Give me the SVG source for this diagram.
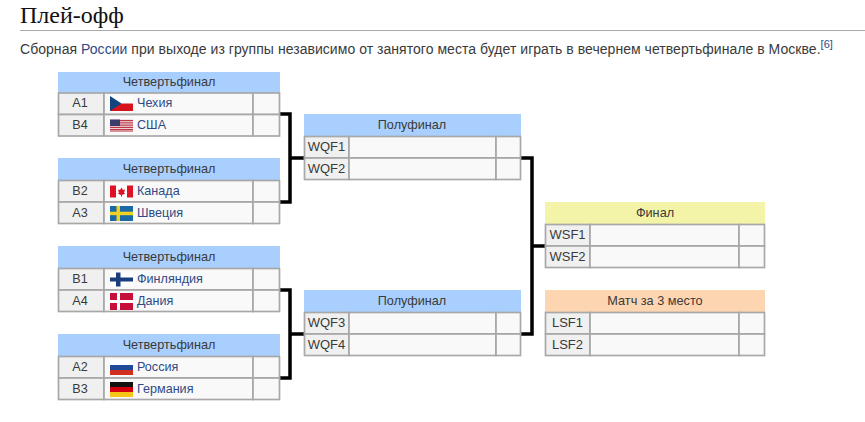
<svg xmlns="http://www.w3.org/2000/svg" width="865" height="422" viewBox="0 0 865 422">
<style>
text{font-family:"Liberation Sans",Arial,sans-serif;font-size:12.6px;fill:#3a3a3a}
.c{text-anchor:middle}
.l{fill:#2f4a86}
.qf{fill:#a9cfff}.fi{fill:#f4f4a8}.th{fill:#fdd5b0}
.code{fill:#f0f0f0;stroke:#a8a8a8;stroke-width:1.7}
.cell{fill:#f9f9f9;stroke:#a8a8a8;stroke-width:1.7}
.conn{fill:none;stroke:#000;stroke-width:3.5}
.hd{font-size:12.7px}
.code-t{font-size:13px}
</style>
<defs>
<g id="cz"><rect width="23" height="15" fill="#fff"/><rect y="7.5" width="23" height="7.5" fill="#d7141a"/><path d="M0 0L11.5 7.5L0 15Z" fill="#11457e"/></g>
<g id="us"><rect width="23" height="12" y="1.5" fill="#fff"/><path d="M0 2.4H23M0 4.2H23M0 6H23M0 7.8H23M0 9.6H23M0 11.4H23M0 13H23" stroke="#b22234" stroke-width="1"/><rect y="1.5" width="10" height="6.5" fill="#3c3b6e"/></g>
<g id="ca"><rect width="23" height="12" y="1.5" fill="#fff"/><rect y="1.5" width="6" height="12" fill="#e01025"/><rect x="17" y="1.5" width="6" height="12" fill="#e01025"/><path d="M11.5 3.5L13 6L15 5.5L14 9L15.5 9.5L12 11V12.5H11V11L7.5 9.5L9 9L8 5.5L10 6Z" fill="#e01025"/></g>
<g id="se"><rect width="23" height="15" fill="#1a6aa8"/><rect x="6.5" width="3.5" height="15" fill="#f0d020"/><rect y="5.7" width="23" height="3.5" fill="#f0d020"/></g>
<g id="fi"><rect width="23" height="14" y=".5" fill="#fff"/><rect x="6" y=".5" width="4.5" height="14" fill="#1a3d7c"/><rect y="5.5" width="23" height="4" fill="#1a3d7c"/></g>
<g id="dk"><rect width="23" height="17" y="-1" fill="#c5103a"/><rect x="7" y="-1" width="3" height="17" fill="#fff"/><rect y="6" width="23" height="3" fill="#fff"/></g>
<g id="ru"><rect width="23" height="15" fill="#fff"/><rect y="5" width="23" height="5" fill="#1f4a9a"/><rect y="10" width="23" height="5" fill="#d03020"/></g>
<g id="de"><rect width="23" height="5" fill="#111"/><rect y="5" width="23" height="5" fill="#d2000f"/><rect y="10" width="23" height="5" fill="#f5c518"/></g>
</defs>
<g id="heading">
<text x="20" y="23" style="font-family:'Liberation Serif',serif;font-size:24px;fill:#111">Плей-офф</text>
<rect x="20" y="30" width="845" height="1" fill="#aaa"/>
<text x="20" y="54" style="font-size:14px;letter-spacing:.04px">Сборная <tspan class="l">России</tspan> при выходе из группы независимо от занятого места будет играть в вечернем четвертьфинале в Москве.<tspan class="l" style="font-size:11px" dy="-6">[6]</tspan></text>
</g>
<g id="connectors" class="conn">
<path d="M280 114H290V202H280M290 158H304"/>
<path d="M280 290H290V378H280M290 334H304"/>
<path d="M521 158H532V334H521M532 246H545"/>
</g>
<g id="qf1"><rect class="qf" x="58" y="72" width="222" height="21"/><text class="c hd" x="169" y="86">Четвертьфинал</text>
<rect class="code" x="58.500" y="93" width="45.500" height="21.500"/><rect class="cell" x="104" y="93" width="149" height="21.500"/><rect class="cell" x="253" y="93" width="26.500" height="21.500"/>
<rect class="code" x="58.500" y="114.500" width="45.500" height="21.500"/><rect class="cell" x="104" y="114.500" width="149" height="21.500"/><rect class="cell" x="253" y="114.500" width="26.500" height="21.500"/>
<text class="c" x="80" y="107">A1</text><use href="#cz" x="110" y="96"/><text class="l" x="137" y="107">Чехия</text>
<text class="c" x="80" y="129">B4</text><use href="#us" x="110" y="118"/><text class="l" x="137" y="129">США</text></g>
<g id="qf2"><rect class="qf" x="58" y="158" width="222" height="22"/><text class="c hd" x="169" y="173">Четвертьфинал</text>
<rect class="code" x="58.500" y="180.500" width="45.500" height="21.500"/><rect class="cell" x="104" y="180.500" width="149" height="21.500"/><rect class="cell" x="253" y="180.500" width="26.500" height="21.500"/>
<rect class="code" x="58.500" y="202" width="45.500" height="21.500"/><rect class="cell" x="104" y="202" width="149" height="21.500"/><rect class="cell" x="253" y="202" width="26.500" height="21.500"/>
<text class="c" x="80" y="195">B2</text><use href="#ca" x="110" y="184"/><text class="l" x="137" y="195">Канада</text>
<text class="c" x="80" y="217">A3</text><use href="#se" x="110" y="206"/><text class="l" x="137" y="217">Швеция</text></g>
<g id="qf3"><rect class="qf" x="58" y="246" width="222" height="22"/><text class="c hd" x="169" y="261">Четвертьфинал</text>
<rect class="code" x="58.500" y="268.500" width="45.500" height="21.500"/><rect class="cell" x="104" y="268.500" width="149" height="21.500"/><rect class="cell" x="253" y="268.500" width="26.500" height="21.500"/>
<rect class="code" x="58.500" y="290" width="45.500" height="21.500"/><rect class="cell" x="104" y="290" width="149" height="21.500"/><rect class="cell" x="253" y="290" width="26.500" height="21.500"/>
<text class="c" x="80" y="283">B1</text><use href="#fi" x="110" y="272"/><text class="l" x="137" y="283">Финляндия</text>
<text class="c" x="80" y="305">A4</text><use href="#dk" x="110" y="294"/><text class="l" x="137" y="305">Дания</text></g>
<g id="qf4"><rect class="qf" x="58" y="334" width="222" height="22"/><text class="c hd" x="169" y="349">Четвертьфинал</text>
<rect class="code" x="58.500" y="356.500" width="45.500" height="21.500"/><rect class="cell" x="104" y="356.500" width="149" height="21.500"/><rect class="cell" x="253" y="356.500" width="26.500" height="21.500"/>
<rect class="code" x="58.500" y="378" width="45.500" height="21.500"/><rect class="cell" x="104" y="378" width="149" height="21.500"/><rect class="cell" x="253" y="378" width="26.500" height="21.500"/>
<text class="c" x="80" y="371">A2</text><use href="#ru" x="110" y="360"/><text class="l" x="137" y="371">Россия</text>
<text class="c" x="80" y="393">B3</text><use href="#de" x="110" y="382"/><text class="l" x="137" y="393">Германия</text></g>
<g id="sf1"><rect class="qf" x="304" y="114" width="217" height="22"/><text class="c hd" x="412" y="129">Полуфинал</text>
<rect class="code" x="304.500" y="136.500" width="44.500" height="21.500"/><rect class="cell" x="349" y="136.500" width="147" height="21.500"/><rect class="cell" x="496" y="136.500" width="24.500" height="21.500"/>
<rect class="code" x="304.500" y="158" width="44.500" height="21.500"/><rect class="cell" x="349" y="158" width="147" height="21.500"/><rect class="cell" x="496" y="158" width="24.500" height="21.500"/>
<text class="c code-t" x="326.500" y="151">WQF1</text><text class="c code-t" x="326.500" y="173">WQF2</text></g>
<g id="sf2"><rect class="qf" x="304" y="290" width="217" height="22"/><text class="c hd" x="412" y="305">Полуфинал</text>
<rect class="code" x="304.500" y="312.500" width="44.500" height="21.500"/><rect class="cell" x="349" y="312.500" width="147" height="21.500"/><rect class="cell" x="496" y="312.500" width="24.500" height="21.500"/>
<rect class="code" x="304.500" y="334" width="44.500" height="21.500"/><rect class="cell" x="349" y="334" width="147" height="21.500"/><rect class="cell" x="496" y="334" width="24.500" height="21.500"/>
<text class="c code-t" x="326.500" y="327">WQF3</text><text class="c code-t" x="326.500" y="349">WQF4</text></g>
<g id="final"><rect class="fi" x="545" y="202" width="220" height="22"/><text class="c hd" x="655" y="217">Финал</text>
<rect class="code" x="545.500" y="224.500" width="44.500" height="21.500"/><rect class="cell" x="590" y="224.500" width="149" height="21.500"/><rect class="cell" x="739" y="224.500" width="25.500" height="21.500"/>
<rect class="code" x="545.500" y="246" width="44.500" height="21.500"/><rect class="cell" x="590" y="246" width="149" height="21.500"/><rect class="cell" x="739" y="246" width="25.500" height="21.500"/>
<text class="c code-t" x="567.500" y="239">WSF1</text><text class="c code-t" x="567.500" y="261">WSF2</text></g>
<g id="third"><rect class="th" x="545" y="290" width="220" height="22"/><text class="c hd" x="655" y="305">Матч за 3 место</text>
<rect class="code" x="545.500" y="312.500" width="44.500" height="21.500"/><rect class="cell" x="590" y="312.500" width="149" height="21.500"/><rect class="cell" x="739" y="312.500" width="25.500" height="21.500"/>
<rect class="code" x="545.500" y="334" width="44.500" height="21.500"/><rect class="cell" x="590" y="334" width="149" height="21.500"/><rect class="cell" x="739" y="334" width="25.500" height="21.500"/>
<text class="c code-t" x="567.500" y="327">LSF1</text><text class="c code-t" x="567.500" y="349">LSF2</text></g>
</svg>
